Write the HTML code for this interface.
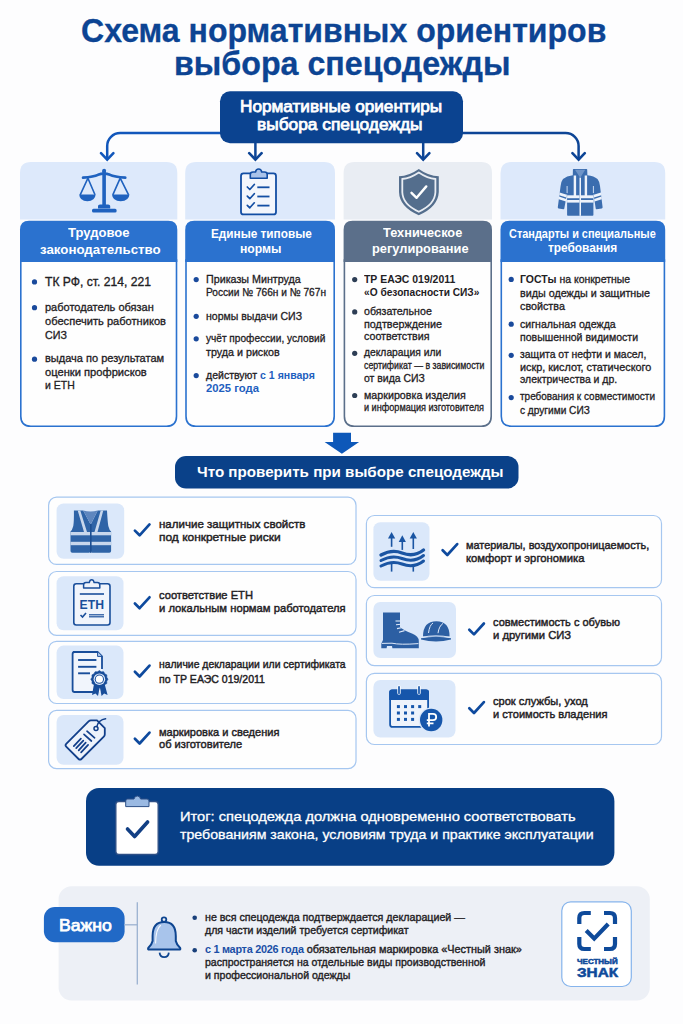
<!DOCTYPE html>
<html><head><meta charset="utf-8"><style>
html,body{margin:0;padding:0;}
body{width:683px;height:1024px;position:relative;overflow:hidden;background:#fdfdfe;font-family:"Liberation Sans",sans-serif;}
.t{position:absolute;white-space:nowrap;transform-origin:0 0;}
svg.s{position:absolute;left:0;top:0;}
</style></head><body>
<svg class="s" width="683" height="1024" viewBox="0 0 683 1024">
<path d="M222,133.1 L120.2,133.1 A13,13 0 0 0 107.2,146.1 L107.2,159" fill="none" stroke="#1257bb" stroke-width="2.5"/>
<path d="M461,133.1 L565.6,133.1 A13,13 0 0 1 578.6,146.1 L578.6,159" fill="none" stroke="#0d4596" stroke-width="2.5"/>
<path d="M255.4,142 L255.4,159 M423.2,142 L423.2,159" fill="none" stroke="#0d4596" stroke-width="2.5"/>
<path d="M101.0,153.2 L107.2,159.6 L113.4,153.2" fill="none" stroke="#1257bb" stroke-width="2.6" stroke-linecap="round" stroke-linejoin="miter"/>
<path d="M249.20000000000002,153.2 L255.4,159.6 L261.6,153.2" fill="none" stroke="#0d4596" stroke-width="2.6" stroke-linecap="round" stroke-linejoin="miter"/>
<path d="M417.0,153.2 L423.2,159.6 L429.4,153.2" fill="none" stroke="#0d4596" stroke-width="2.6" stroke-linecap="round" stroke-linejoin="miter"/>
<path d="M572.4,153.2 L578.6,159.6 L584.8000000000001,153.2" fill="none" stroke="#0d4596" stroke-width="2.6" stroke-linecap="round" stroke-linejoin="miter"/>
<rect x="220.00" y="91.20" width="243.00" height="52.00" rx="10" fill="#0b4390"/>
<path d="M20.8,260 L20.8,416.2 Q20.8,426.2 30.8,426.2 L166.5,426.2 Q176.5,426.2 176.5,416.2 L176.5,260 Z" fill="#fefefe" stroke="#2b72cf" stroke-width="1.6"/>
<path d="M20,219.6 L20,173 Q20,162 31,162 L166.3,162 Q177.3,162 177.3,173 L177.3,219.6 Z" fill="#dde9fb"/>
<path d="M20,262 L20,229.7 Q20,220.7 29,220.7 L168.3,220.7 Q177.3,220.7 177.3,229.7 L177.3,262 Z" fill="#2b72cf"/>
<path d="M186.0,260 L186.0,416.2 Q186.0,426.2 196.0,426.2 L324.2,426.2 Q334.2,426.2 334.2,416.2 L334.2,260 Z" fill="#fefefe" stroke="#2b72cf" stroke-width="1.6"/>
<path d="M185.2,219.6 L185.2,173 Q185.2,162 196.2,162 L324,162 Q335,162 335,173 L335,219.6 Z" fill="#dde9fb"/>
<path d="M185.2,262 L185.2,229.7 Q185.2,220.7 194.2,220.7 L326,220.7 Q335,220.7 335,229.7 L335,262 Z" fill="#2b72cf"/>
<path d="M344.40000000000003,260 L344.40000000000003,416.2 Q344.40000000000003,426.2 354.40000000000003,426.2 L481.2,426.2 Q491.2,426.2 491.2,416.2 L491.2,260 Z" fill="#fefefe" stroke="#5b6f8a" stroke-width="1.6"/>
<path d="M343.6,219.6 L343.6,173 Q343.6,162 354.6,162 L481,162 Q492,162 492,173 L492,219.6 Z" fill="#e9edf3"/>
<path d="M343.6,262 L343.6,229.7 Q343.6,220.7 352.6,220.7 L483,220.7 Q492,220.7 492,229.7 L492,262 Z" fill="#5b6f8a"/>
<path d="M501.3,260 L501.3,416.2 Q501.3,426.2 511.3,426.2 L654.4000000000001,426.2 Q664.4000000000001,426.2 664.4000000000001,416.2 L664.4000000000001,260 Z" fill="#fefefe" stroke="#2b72cf" stroke-width="1.6"/>
<path d="M500.5,219.6 L500.5,173 Q500.5,162 511.5,162 L654.2,162 Q665.2,162 665.2,173 L665.2,219.6 Z" fill="#dde9fb"/>
<path d="M500.5,262 L500.5,229.7 Q500.5,220.7 509.5,220.7 L656.2,220.7 Q665.2,220.7 665.2,229.7 L665.2,262 Z" fill="#2b72cf"/>
<g fill="#1f62bf" stroke="none"><circle cx="104.1" cy="170.8" r="2"/><rect x="102.3" y="171" width="3.6" height="36"/><path d="M98,206 Q98,204.5 100,204.5 L108.2,204.5 Q110.2,204.5 110.2,206 L110.2,208.5 L98,208.5 Z"/><rect x="92" y="208.8" width="24.6" height="3.8" rx="1.5"/><path d="M79.2,194.6 L95.6,194.6 Q95.2,201.2 87.4,201.2 Q79.6,201.2 79.2,194.6 Z"/><path d="M112,194.6 L129.4,194.6 Q129,201.2 120.7,201.2 Q112.4,201.2 112,194.6 Z"/></g>
<path d="M83,177.6 Q94,176.8 98,174.8 Q104,172.5 110,174.8 Q114,176.8 125.3,177.6" fill="none" stroke="#1f62bf" stroke-width="2.6" stroke-linecap="round"/>
<path d="M80.2,194.8 L87.9,178.2 L95,194.8 M112.8,194.8 L120.2,178.2 L128.6,194.8" fill="none" stroke="#1f62bf" stroke-width="1.6"/>
<rect x="241" y="173.4" width="35" height="41" rx="2.5" fill="#f3f6fc" stroke="#134ea3" stroke-width="1.8"/>
<path d="M250.3,178.2 L250.3,174.5 Q250.3,172 253,172 L255.5,172 Q256,169 258.6,169 Q261.2,169 261.7,172 L264.5,172 Q267.2,172 267.2,174.5 L267.2,178.2 Z" fill="#a9c3ea" stroke="#134ea3" stroke-width="1.6" stroke-linejoin="round"/>
<path d="M247.3,187.0 L249.8,189.5 L254.3,184.5" fill="none" stroke="#134ea3" stroke-width="1.7" stroke-linecap="round" stroke-linejoin="round"/>
<line x1="257.3" y1="187.3" x2="269.5" y2="187.3" stroke="#134ea3" stroke-width="1.8"/>
<path d="M247.3,196.2 L249.8,198.7 L254.3,193.7" fill="none" stroke="#134ea3" stroke-width="1.7" stroke-linecap="round" stroke-linejoin="round"/>
<line x1="257.3" y1="196.5" x2="269.5" y2="196.5" stroke="#134ea3" stroke-width="1.8"/>
<path d="M247.3,205.29999999999998 L249.8,207.79999999999998 L254.3,202.79999999999998" fill="none" stroke="#134ea3" stroke-width="1.7" stroke-linecap="round" stroke-linejoin="round"/>
<line x1="257.3" y1="205.6" x2="269.5" y2="205.6" stroke="#134ea3" stroke-width="1.8"/>
<path d="M418.8,169 Q409,176 399,176.2 L399,192 Q399.5,207 418.8,215.2 Q438,207 438.8,192 L438.8,176.2 Q428.5,176 418.8,169 Z" fill="#546e8d"/>
<path d="M418.8,172.6 Q410,178.6 402.3,179 L402.3,192.3 Q402.8,204.6 418.8,211.7 Q434.8,204.6 435.4,192.3 L435.4,179 Q427.6,178.6 418.8,172.6 Z" fill="none" stroke="#e9edf3" stroke-width="1.8"/>
<path d="M411.5,192.8 L416.6,197.8 L426.3,186.4" fill="none" stroke="#ffffff" stroke-width="2.4" stroke-linecap="round" stroke-linejoin="round"/>
<path d="M572.9,169.6 Q572.9,168.9 573.6,168.9 L586.5,168.9 Q587.2,168.9 587.2,169.6 L587.4,175.2 Q594,176 597.5,179 Q599.6,181.5 600,186 L602.6,207.2 Q602.7,208.2 601.7,208.4 L596.6,209.3 Q595.8,209.4 595.7,208.6 L593.4,193 L593.4,215 Q593.4,215.8 592.6,215.8 L567.9,215.8 Q567.1,215.8 567.1,215 L567.1,193 L564.3,208.6 Q564.2,209.4 563.4,209.3 L558.6,208.4 Q557.7,208.2 557.8,207.2 L560.6,186 Q561,181.5 563,179 Q566.6,176 572.8,175.2 Z" fill="#3b6daf"/>
<path d="M567.1,186 L567.1,193 M593.4,186 L593.4,193" stroke="#dde9fb" stroke-width="0.9"/>
<g fill="#eef3fb"><rect x="573.7" y="175.5" width="2.4" height="21"/><rect x="584.7" y="175.5" width="2.4" height="21"/><rect x="579.5" y="177.6" width="1.5" height="38.2"/><rect x="567.1" y="195.3" width="12.4" height="2.9"/><rect x="581" y="195.3" width="12.4" height="2.9"/><rect x="567.1" y="200" width="12.4" height="2.6"/><rect x="581" y="200" width="12.4" height="2.6"/><path d="M559.6,192.6 L566.8,194.8 L566.5,197.5 L559.2,195.3 Z M559,196.6 L566.3,199 L566,201.5 L558.7,199.3 Z"/><path d="M600.9,192.6 L593.7,194.8 L594,197.5 L601.3,195.3 Z M601.5,196.6 L594.2,199 L594.5,201.5 L601.8,199.3 Z"/></g>
<path d="M575,169.8 L580.2,177.8 L585.2,169.8 Z" fill="#6e94c8"/>
<path d="M333.1,432.7 L351,432.7 L351,442 L359.1,442 L341.9,453.8 L324.6,442 L333.1,442 Z" fill="#0d58b9"/>
<rect x="175.00" y="456.00" width="343.50" height="32.40" rx="11" fill="#0a4189"/>
<rect x="48.60" y="497.20" width="307.40" height="67.20" rx="8" fill="#fefefe" stroke="#a6c7f0" stroke-width="1.2"/>
<rect x="56.60" y="503.50" width="67.60" height="55.30" rx="7" fill="#dbe8fa"/>
<rect x="48.60" y="571.50" width="307.40" height="63.80" rx="8" fill="#fefefe" stroke="#a6c7f0" stroke-width="1.2"/>
<rect x="56.60" y="576.30" width="66.90" height="54.00" rx="7" fill="#dbe8fa"/>
<rect x="48.60" y="641.30" width="307.40" height="62.20" rx="8" fill="#fefefe" stroke="#a6c7f0" stroke-width="1.2"/>
<rect x="56.60" y="645.60" width="66.90" height="53.40" rx="7" fill="#dbe8fa"/>
<rect x="48.60" y="710.40" width="307.40" height="58.20" rx="8" fill="#fefefe" stroke="#a6c7f0" stroke-width="1.2"/>
<rect x="56.60" y="715.00" width="66.90" height="49.70" rx="7" fill="#dbe8fa"/>
<rect x="366.40" y="515.50" width="295.10" height="72.20" rx="8" fill="#fefefe" stroke="#a6c7f0" stroke-width="1.2"/>
<rect x="373.40" y="522.30" width="56.10" height="58.50" rx="7" fill="#dbe8fa"/>
<rect x="366.40" y="595.50" width="295.10" height="70.10" rx="8" fill="#fefefe" stroke="#a6c7f0" stroke-width="1.2"/>
<rect x="373.40" y="602.00" width="82.60" height="56.10" rx="7" fill="#dbe8fa"/>
<rect x="366.40" y="673.30" width="295.10" height="71.20" rx="8" fill="#fefefe" stroke="#a6c7f0" stroke-width="1.2"/>
<rect x="373.40" y="680.00" width="82.10" height="57.50" rx="7" fill="#dbe8fa"/>
<path d="M134.9,530.6 L139.6,535.3 L149.5,524.4" fill="none" stroke="#0e4a9e" stroke-width="2.7" stroke-linecap="round" stroke-linejoin="round"/>
<path d="M134.9,603.5 L139.6,608.2 L149.5,597.3" fill="none" stroke="#0e4a9e" stroke-width="2.7" stroke-linecap="round" stroke-linejoin="round"/>
<path d="M134.9,671.8 L139.6,676.5 L149.5,665.6" fill="none" stroke="#0e4a9e" stroke-width="2.7" stroke-linecap="round" stroke-linejoin="round"/>
<path d="M134.9,738.8 L139.6,743.5 L149.5,732.6" fill="none" stroke="#0e4a9e" stroke-width="2.7" stroke-linecap="round" stroke-linejoin="round"/>
<path d="M442.6,550.3 L447.3,555.0 L457.2,544.1" fill="none" stroke="#0e4a9e" stroke-width="2.7" stroke-linecap="round" stroke-linejoin="round"/>
<path d="M469.3,629.7 L474.0,634.4 L483.9,623.5" fill="none" stroke="#0e4a9e" stroke-width="2.7" stroke-linecap="round" stroke-linejoin="round"/>
<path d="M469.3,708.3 L474.0,713.0 L483.9,702.1" fill="none" stroke="#0e4a9e" stroke-width="2.7" stroke-linecap="round" stroke-linejoin="round"/>
<path d="M73.9,510.6 L83.2,510.4 L90.7,524.4 L97.7,510.4 L107,510.6 Q107.5,521 108.3,526 Q109.5,530.5 111.1,531.5 L111.1,551 Q111.1,552.8 109.3,552.8 L92.2,552.8 L90.8,551 L89.4,552.8 L72.3,552.8 Q70.5,552.8 70.5,551 L70.5,531.5 Q72.1,530.5 73.3,526 Q74.1,521 73.9,510.6 Z" fill="#2f64a7"/>
<path d="M83.2,510.4 L90.7,524.4 L97.7,510.4 Q90.5,512.5 83.2,510.4 Z" fill="#5f87bf"/>
<path d="M77.7,510.6 L80.3,510.5 L87,532 L84,532 Z M103.3,510.6 L100.7,510.5 L94.5,532 L97.5,532 Z" fill="#c8d7ec"/>
<rect x="70.5" y="532" width="40.6" height="3.3" fill="#c8d7ec"/><rect x="70.5" y="541.8" width="40.6" height="3.4" fill="#c8d7ec"/>
<rect x="90" y="524" width="1.6" height="28.8" fill="#1d4f92"/>
<rect x="73.8" y="583.7" width="36.2" height="41.3" rx="2.5" fill="#f1f5fc" stroke="#1a4f9b" stroke-width="1.6"/>
<path d="M83.6,588 L83.6,585 Q83.6,582.6 86,582.6 L89.3,582.6 Q89.8,579.8 91.7,579.8 Q93.6,579.8 94.1,582.6 L97.4,582.6 Q99.8,582.6 99.8,585 L99.8,588 Z" fill="#eef3fb" stroke="#1a4f9b" stroke-width="1.5" stroke-linejoin="round"/>
<line x1="79.8" y1="594" x2="104" y2="594" stroke="#1a4f9b" stroke-width="1.6"/>
<text x="79.6" y="608.6" font-family="Liberation Sans" font-weight="700" font-size="13" fill="#1a4f9b" textLength="24.4" lengthAdjust="spacingAndGlyphs">ETH</text>
<path d="M80.5,615 L82.5,617 L86,613" fill="none" stroke="#1a4f9b" stroke-width="1.6"/>
<line x1="89" y1="614.8" x2="104" y2="614.8" stroke="#1a4f9b" stroke-width="1.2"/><line x1="89" y1="616.8" x2="104" y2="616.8" stroke="#1a4f9b" stroke-width="1.2"/>
<path d="M72.6,652 L97.6,652 L102,656.4 L102,692 L72.6,692 Z" fill="#f1f5fc"/>
<path d="M73,652 L97.6,652 L102,656.4 L102,669 M93,692 L74.6,692 Q72.6,692 72.6,690 L72.6,654 Q72.6,652 74.6,652" fill="none" stroke="#184d9a" stroke-width="1.8"/>
<path d="M97.6,652 L97.6,656.4 L102,656.4" fill="#b9cdea" stroke="#184d9a" stroke-width="1"/>
<g stroke="#184d9a" stroke-width="1.9"><line x1="78.1" y1="660" x2="96.4" y2="660"/><line x1="78.1" y1="666.8" x2="96.4" y2="666.8"/><line x1="78.1" y1="673.3" x2="90" y2="673.3"/></g>
<path d="M94,684 L92,695 L95.5,693.5 L98,696 L100.2,685 Z M104.6,684 L107.6,695 L104.1,693.5 L101.6,696 L99.4,685 Z" fill="#184d9a"/>
<path d="M108.00,679.20 L106.74,681.17 L106.85,683.50 L104.77,684.57 L103.70,686.65 L101.37,686.54 L99.40,687.80 L97.43,686.54 L95.10,686.65 L94.03,684.57 L91.95,683.50 L92.06,681.17 L90.80,679.20 L92.06,677.23 L91.95,674.90 L94.03,673.83 L95.10,671.75 L97.43,671.86 L99.40,670.60 L101.37,671.86 L103.70,671.75 L104.77,673.83 L106.85,674.90 L106.74,677.23 Z" fill="#184d9a" stroke="#184d9a" stroke-width="0.6" stroke-linejoin="round"/><circle cx="99.4" cy="679.2" r="5.8" fill="#dbe6f7"/><circle cx="99.4" cy="679.2" r="4.6" fill="#184d9a"/><circle cx="99.4" cy="679.2" r="3.6" fill="#ffffff"/>
<path d="M66.2,743.8 L88.6,721.4 Q89.6,720.4 91,720.4 L97,720.4 L104.8,728.2 L104.8,734.2 Q104.8,735.6 103.8,736.6 L81.4,759 Q80,760.4 78.6,759 L66.2,746.6 Q64.8,745.2 66.2,743.8 Z" fill="#eef3fb" stroke="#123f8a" stroke-width="1.8" stroke-linejoin="round"/>
<circle cx="96" cy="728.6" r="2" fill="none" stroke="#123f8a" stroke-width="1.5"/>
<path d="M96.8,726.6 Q98.5,719.8 105.6,718.8" fill="none" stroke="#123f8a" stroke-width="1.5" stroke-linecap="round"/>
<g stroke="#123f8a" stroke-width="1.7" stroke-linecap="round"><line x1="73.8" y1="746.2" x2="80.9" y2="738.6"/><line x1="76.2" y1="748.2" x2="83.3" y2="740.6"/><line x1="78.7" y1="750.3" x2="85.7" y2="742.7"/><line x1="81.1" y1="752.4" x2="88.1" y2="744.8"/><line x1="87" y1="731.2" x2="94.6" y2="737.8"/><line x1="84" y1="734.4" x2="91.4" y2="741"/></g>
<g fill="#1a55a3"><path d="M391.6,532 L395.2,538.6 L388,538.6 Z"/><rect x="390.8" y="538" width="1.6" height="8.8"/><path d="M402.3,535.3 L405.9,541.9 L398.7,541.9 Z"/><rect x="401.5" y="541.5" width="1.6" height="8.4"/><path d="M413.3,532 L416.9,538.6 L409.7,538.6 Z"/><rect x="412.5" y="538" width="1.6" height="11"/><rect x="390.8" y="564" width="1.6" height="7.6"/><rect x="412.5" y="564" width="1.6" height="7.6"/></g>
<path d="M381,555 Q392,549 402,553 Q414,557.5 423.5,550" fill="none" stroke="#1a55a3" stroke-width="3.4" stroke-linecap="round"/>
<path d="M381,560.5 Q392,554.5 402,558.5 Q414,563.0 423.5,555.5" fill="none" stroke="#1a55a3" stroke-width="3.0" stroke-linecap="round"/>
<path d="M381,566 Q392,560 402,564 Q414,568.5 423.5,561" fill="none" stroke="#1a55a3" stroke-width="3.0" stroke-linecap="round"/>
<path d="M383,612.4 L400,612.4 L400,627 Q404,630.5 412,633.5 Q418.8,636 418.8,641 L418.8,648.2 L392.4,648.2 L392,646 L387,646 L386.6,648.2 L381.3,648.2 L381.3,643.5 L383,640 Z" fill="#2c5fa3"/>
<path d="M381.8,643.4 L392,643.2 Q400,645 418.4,643.6" fill="none" stroke="#dfe9f8" stroke-width="1"/>
<g stroke="#dfe9f8" stroke-width="1.1"><line x1="395.5" y1="621" x2="400" y2="621"/><line x1="396" y1="624.8" x2="401" y2="624.2"/><line x1="397" y1="628.6" x2="402.5" y2="627.5"/><line x1="399" y1="632.2" x2="404.5" y2="630.6"/></g>
<path d="M423,636.5 Q423,621.2 436.3,621.2 Q449.6,621.2 449.6,636.5 Z" fill="#2c5fa3"/>
<path d="M421,638.3 Q436,635 451,638.3 L451,639.5 Q436,643.5 421,639.5 Z" fill="#2c5fa3"/>
<path d="M421.5,637.4 Q436,634.2 450.5,637.4" fill="none" stroke="#dfe9f8" stroke-width="0.9"/>
<path d="M428.5,633 Q429.5,625 433,623 M438,633.2 Q439,626 443,623.4" fill="none" stroke="#dfe9f8" stroke-width="1"/>
<rect x="390.1" y="690.3" width="38" height="36.6" rx="2.5" fill="#eef3fb" stroke="#1656ab" stroke-width="1.8"/>
<path d="M389.2,700 L389.2,692 Q389.2,689.4 391.8,689.4 L426.4,689.4 Q429,689.4 429,692 L429,700 Z" fill="#1656ab"/>
<g stroke="#ffffff" stroke-width="3.4" stroke-linecap="round"><line x1="399" y1="687" x2="399" y2="693"/><line x1="419" y1="687" x2="419" y2="693"/></g>
<g stroke="#1656ab" stroke-width="1.7" stroke-linecap="round"><line x1="399" y1="686.8" x2="399" y2="693.2"/><line x1="419" y1="686.8" x2="419" y2="693.2"/></g>
<g fill="#1656ab"><rect x="396.9" y="705.1" width="3" height="3"/><rect x="404.0" y="705.1" width="3" height="3"/><rect x="411.1" y="705.1" width="3" height="3"/><rect x="418.2" y="705.1" width="3" height="3"/><rect x="396.9" y="711.5" width="3" height="3"/><rect x="404.0" y="711.5" width="3" height="3"/><rect x="411.1" y="711.5" width="3" height="3"/><rect x="396.9" y="717.9" width="3" height="3"/><rect x="404.0" y="717.9" width="3" height="3"/><rect x="411.1" y="717.9" width="3" height="3"/></g>
<circle cx="431.2" cy="720" r="12.6" fill="#dbe8fa"/><circle cx="431.2" cy="720" r="11.2" fill="#1656ab"/>
<path d="M429,726.5 L429,713.8 L433,713.8 Q436.2,713.8 436.2,717 Q436.2,720.2 433,720.2 L426.8,720.2 M426.8,723.3 L433.5,723.3" fill="none" stroke="#ffffff" stroke-width="1.8"/>
<rect x="86.00" y="788.00" width="528.40" height="77.80" rx="13" fill="#083f86"/>
<rect x="115.8" y="801.5" width="42.4" height="53" rx="3" fill="#ffffff" stroke="#2d4f86" stroke-width="1.4"/>
<path d="M125.7,806.6 L125.7,801 Q125.7,799 127.7,799 L134,799 Q134.5,796 137.3,796 Q140.1,796 140.6,799 L147,799 Q149,799 149,801 L149,806.6 Z" fill="#9ab9e2" stroke="#2d4f86" stroke-width="1"/>
<path d="M127.5,829 L134.6,836.5 L147.6,822" fill="none" stroke="#123f84" stroke-width="3.6" stroke-linecap="round" stroke-linejoin="round"/>
<rect x="58.60" y="886.20" width="591.20" height="114.40" rx="13" fill="#edf0f6"/>
<rect x="43.90" y="907.00" width="80.70" height="35.30" rx="11" fill="#2169c6"/>
<line x1="124" y1="924.8" x2="137.3" y2="924.8" stroke="#9bb1d0" stroke-width="1.3"/><line x1="137.3" y1="902.3" x2="137.3" y2="984.4" stroke="#9bb1d0" stroke-width="1.3"/>
<circle cx="164" cy="919.6" r="2.3" fill="none" stroke="#0e4590" stroke-width="1.8"/>
<path d="M152.6,936 Q152.6,922 164.2,922 Q175.8,922 175.8,936 L175.8,941 Q176.5,944.5 180.2,948 Q180.8,949.6 179.2,949.6 L149.2,949.6 Q147.6,949.6 148.2,948 Q151.9,944.5 152.6,941 Z" fill="#a8c4eb" stroke="#0e4590" stroke-width="2" stroke-linejoin="round"/>
<path d="M155.6,943 Q155.8,929 160.5,925.5" fill="none" stroke="#ffffff" stroke-width="1.1" stroke-linecap="round" opacity="0.9"/>
<path d="M159.6,952.6 Q160,957.2 164.2,957.2 Q168.4,957.2 168.8,952.6" fill="none" stroke="#0e4590" stroke-width="1.8"/>
<circle cx="194.7" cy="917.7" r="2.3" fill="#183f7a"/>
<circle cx="194.7" cy="950.3" r="2.3" fill="#183f7a"/>
<circle cx="34.5" cy="281.9" r="2.6" fill="#1a4a9c"/>
<circle cx="34.5" cy="307.7" r="2.6" fill="#1a4a9c"/>
<circle cx="34.5" cy="359.2" r="2.6" fill="#1a4a9c"/>
<circle cx="196.2" cy="279.6" r="2.6" fill="#1a4a9c"/>
<circle cx="196.2" cy="316.3" r="2.6" fill="#1a4a9c"/>
<circle cx="196.2" cy="338.8" r="2.6" fill="#1a4a9c"/>
<circle cx="196.2" cy="375.6" r="2.6" fill="#1a4a9c"/>
<circle cx="354.7" cy="279.6" r="2.6" fill="#2d3e55"/>
<circle cx="354.7" cy="311.9" r="2.6" fill="#2d3e55"/>
<circle cx="354.7" cy="353.3" r="2.6" fill="#2d3e55"/>
<circle cx="354.7" cy="395.5" r="2.6" fill="#2d3e55"/>
<circle cx="511.2" cy="279.4" r="2.6" fill="#1a4a9c"/>
<circle cx="511.2" cy="324.2" r="2.6" fill="#1a4a9c"/>
<circle cx="511.2" cy="355.3" r="2.6" fill="#1a4a9c"/>
<circle cx="511.2" cy="397.6" r="2.6" fill="#1a4a9c"/>
<rect x="561.80" y="901.80" width="69.50" height="84.70" rx="9" fill="#ffffff" stroke="#86b4ec" stroke-width="1.2"/>
<g fill="none" stroke="#0e4a9a" stroke-width="4.2" stroke-linejoin="round"><path d="M579.3,924 L579.3,918 Q579.3,913 584.3,913 L590.8,913"/><path d="M604,913 L610,913 Q615,913 615,918 L615,924"/><path d="M579.3,937 L579.3,944 Q579.3,949 584.3,949 L590.8,949"/><path d="M604,949 L610,949 Q615,949 615,944 L615,937"/></g>
<path d="M586.2,930.6 L594.2,938.6 L608.2,924" fill="none" stroke="#0e4a9a" stroke-width="4.2"/>
</svg>
<div class='t' id='t0' style="left:80.88px;top:15.09px;font-size:32.5px;line-height:32.5px;font-weight:700;color:#0c4493;transform:scaleX(0.9856);-webkit-text-stroke:0.3px #0c4493;">Схема нормативных ориентиров</div><div class='t' id='t1' style="left:174.07px;top:47.59px;font-size:32.5px;line-height:32.5px;font-weight:700;color:#0c4493;transform:scaleX(0.9913);-webkit-text-stroke:0.3px #0c4493;">выбора спецодежды</div><div class='t' id='t2' style="left:240.10px;top:99.26px;font-size:16px;line-height:16px;font-weight:400;color:#ffffff;transform:scaleX(1.0728);-webkit-text-stroke:0.75px #ffffff;">Нормативные ориентиры</div><div class='t' id='t3' style="left:256.90px;top:117.06px;font-size:16px;line-height:16px;font-weight:400;color:#ffffff;transform:scaleX(1.0817);-webkit-text-stroke:0.75px #ffffff;">выбора спецодежды</div><div class='t' id='t4' style="left:68.05px;top:226.20px;font-size:13px;line-height:13px;font-weight:700;color:#ffffff;transform:scaleX(1.0031);">Трудовое</div><div class='t' id='t5' style="left:39.95px;top:242.60px;font-size:13px;line-height:13px;font-weight:700;color:#ffffff;transform:scaleX(1.0219);">законодательство</div><div class='t' id='t6' style="left:211.30px;top:227.74px;font-size:12px;line-height:12px;font-weight:700;color:#ffffff;transform:scaleX(0.9821);">Единые типовые</div><div class='t' id='t7' style="left:240.10px;top:243.44px;font-size:12px;line-height:12px;font-weight:700;color:#ffffff;transform:scaleX(1.0153);">нормы</div><div class='t' id='t8' style="left:382.68px;top:227.32px;font-size:12.5px;line-height:12.5px;font-weight:700;color:#ffffff;transform:scaleX(1.0203);">Техническое</div><div class='t' id='t9' style="left:372.38px;top:242.52px;font-size:12.5px;line-height:12.5px;font-weight:700;color:#ffffff;transform:scaleX(1.0256);">регулирование</div><div class='t' id='t10' style="left:509.38px;top:227.82px;font-size:12.5px;line-height:12.5px;font-weight:700;color:#ffffff;transform:scaleX(0.8734);">Стандарты и специальные</div><div class='t' id='t11' style="left:547.88px;top:242.22px;font-size:12.5px;line-height:12.5px;font-weight:700;color:#ffffff;transform:scaleX(0.9498);">требования</div><div class='t' id='t12' style="left:44.70px;top:275.74px;font-size:12px;line-height:12px;font-weight:400;color:#1f2124;transform:scaleX(1.0099);-webkit-text-stroke:0.32px #1f2124;">ТК РФ, ст. 214, 221</div><div class='t' id='t13' style="left:44.75px;top:301.97px;font-size:11.5px;line-height:11.5px;font-weight:400;color:#1f2124;transform:scaleX(0.9570);-webkit-text-stroke:0.32px #1f2124;">работодатель обязан</div><div class='t' id='t14' style="left:44.75px;top:316.47px;font-size:11.5px;line-height:11.5px;font-weight:400;color:#1f2124;transform:scaleX(0.9653);-webkit-text-stroke:0.32px #1f2124;">обеспечить работников</div><div class='t' id='t15' style="left:44.75px;top:329.57px;font-size:11.5px;line-height:11.5px;font-weight:400;color:#1f2124;transform:scaleX(0.9307);-webkit-text-stroke:0.32px #1f2124;">СИЗ</div><div class='t' id='t16' style="left:44.75px;top:353.47px;font-size:11.5px;line-height:11.5px;font-weight:400;color:#1f2124;transform:scaleX(0.9578);-webkit-text-stroke:0.32px #1f2124;">выдача по результатам</div><div class='t' id='t17' style="left:44.75px;top:367.07px;font-size:11.5px;line-height:11.5px;font-weight:400;color:#1f2124;transform:scaleX(0.9698);-webkit-text-stroke:0.32px #1f2124;">оценки профрисков</div><div class='t' id='t18' style="left:44.75px;top:380.37px;font-size:11.5px;line-height:11.5px;font-weight:400;color:#1f2124;transform:scaleX(0.9103);-webkit-text-stroke:0.32px #1f2124;">и ЕТН</div><div class='t' id='t19' style="left:205.55px;top:273.97px;font-size:11.5px;line-height:11.5px;font-weight:400;color:#1f2124;transform:scaleX(0.9318);-webkit-text-stroke:0.32px #1f2124;">Приказы Минтруда</div><div class='t' id='t20' style="left:205.55px;top:287.37px;font-size:11.5px;line-height:11.5px;font-weight:400;color:#1f2124;transform:scaleX(0.8819);-webkit-text-stroke:0.32px #1f2124;">России № 766н и № 767н</div><div class='t' id='t21' style="left:205.55px;top:310.77px;font-size:11.5px;line-height:11.5px;font-weight:400;color:#1f2124;transform:scaleX(0.9154);-webkit-text-stroke:0.32px #1f2124;">нормы выдачи СИЗ</div><div class='t' id='t22' style="left:205.55px;top:332.97px;font-size:11.5px;line-height:11.5px;font-weight:400;color:#1f2124;transform:scaleX(0.8786);-webkit-text-stroke:0.32px #1f2124;">учёт профессии, условий</div><div class='t' id='t23' style="left:205.55px;top:346.57px;font-size:11.5px;line-height:11.5px;font-weight:400;color:#1f2124;transform:scaleX(0.9322);-webkit-text-stroke:0.32px #1f2124;">труда и рисков</div><div class='t' id='t24' style="left:205.55px;top:369.77px;font-size:11.5px;line-height:11.5px;font-weight:400;color:#1f2124;transform:scaleX(0.9162);-webkit-text-stroke:0.32px #1f2124;">действуют <b style='color:#1f5fbf;-webkit-text-stroke:0'>с 1 января</b></div><div class='t' id='t25' style="left:205.55px;top:382.87px;font-size:11.5px;line-height:11.5px;font-weight:700;color:#1f5fbf;transform:scaleX(0.9815);">2025 года</div><div class='t' id='t26' style="left:363.55px;top:273.97px;font-size:11.5px;line-height:11.5px;font-weight:700;color:#1f2124;transform:scaleX(0.9066);">ТР ЕАЭС 019/2011</div><div class='t' id='t27' style="left:363.55px;top:287.37px;font-size:11.5px;line-height:11.5px;font-weight:700;color:#1f2124;transform:scaleX(0.8842);">«О безопасности СИЗ»</div><div class='t' id='t28' style="left:363.55px;top:306.07px;font-size:11.5px;line-height:11.5px;font-weight:400;color:#1f2124;transform:scaleX(0.9240);-webkit-text-stroke:0.32px #1f2124;">обязательное</div><div class='t' id='t29' style="left:363.55px;top:318.97px;font-size:11.5px;line-height:11.5px;font-weight:400;color:#1f2124;transform:scaleX(0.9375);-webkit-text-stroke:0.32px #1f2124;">подтверждение</div><div class='t' id='t30' style="left:363.55px;top:331.37px;font-size:11.5px;line-height:11.5px;font-weight:400;color:#1f2124;transform:scaleX(0.9276);-webkit-text-stroke:0.32px #1f2124;">соответствия</div><div class='t' id='t31' style="left:363.55px;top:347.07px;font-size:11.5px;line-height:11.5px;font-weight:400;color:#1f2124;transform:scaleX(0.8960);-webkit-text-stroke:0.32px #1f2124;">декларация или</div><div class='t' id='t32' style="left:363.58px;top:360.39px;font-size:11.0px;line-height:11.0px;font-weight:400;color:#1f2124;transform:scaleX(0.7976);-webkit-text-stroke:0.32px #1f2124;">сертификат — в зависимости</div><div class='t' id='t33' style="left:363.55px;top:372.77px;font-size:11.5px;line-height:11.5px;font-weight:400;color:#1f2124;transform:scaleX(0.9079);-webkit-text-stroke:0.32px #1f2124;">от вида СИЗ</div><div class='t' id='t34' style="left:363.55px;top:389.87px;font-size:11.5px;line-height:11.5px;font-weight:400;color:#1f2124;transform:scaleX(0.9299);-webkit-text-stroke:0.32px #1f2124;">маркировка изделия</div><div class='t' id='t35' style="left:363.58px;top:402.49px;font-size:11.0px;line-height:11.0px;font-weight:400;color:#1f2124;transform:scaleX(0.8287);-webkit-text-stroke:0.32px #1f2124;">и информация изготовителя</div><div class='t' id='t36' style="left:519.85px;top:273.77px;font-size:11.5px;line-height:11.5px;font-weight:400;color:#1f2124;transform:scaleX(0.9114);-webkit-text-stroke:0.32px #1f2124;"><b style='-webkit-text-stroke:0'>ГОСТы</b> на конкретные</div><div class='t' id='t37' style="left:519.85px;top:288.17px;font-size:11.5px;line-height:11.5px;font-weight:400;color:#1f2124;transform:scaleX(0.9343);-webkit-text-stroke:0.32px #1f2124;">виды одежды и защитные</div><div class='t' id='t38' style="left:519.85px;top:300.67px;font-size:11.5px;line-height:11.5px;font-weight:400;color:#1f2124;transform:scaleX(0.9363);-webkit-text-stroke:0.32px #1f2124;">свойства</div><div class='t' id='t39' style="left:519.85px;top:318.57px;font-size:11.5px;line-height:11.5px;font-weight:400;color:#1f2124;transform:scaleX(0.9210);-webkit-text-stroke:0.32px #1f2124;">сигнальная одежда</div><div class='t' id='t40' style="left:519.85px;top:331.77px;font-size:11.5px;line-height:11.5px;font-weight:400;color:#1f2124;transform:scaleX(0.9173);-webkit-text-stroke:0.32px #1f2124;">повышенной видимости</div><div class='t' id='t41' style="left:519.85px;top:349.17px;font-size:11.5px;line-height:11.5px;font-weight:400;color:#1f2124;transform:scaleX(0.9065);-webkit-text-stroke:0.32px #1f2124;">защита от нефти и масел,</div><div class='t' id='t42' style="left:519.85px;top:361.67px;font-size:11.5px;line-height:11.5px;font-weight:400;color:#1f2124;transform:scaleX(0.9424);-webkit-text-stroke:0.32px #1f2124;">искр, кислот, статического</div><div class='t' id='t43' style="left:519.85px;top:374.07px;font-size:11.5px;line-height:11.5px;font-weight:400;color:#1f2124;transform:scaleX(0.9095);-webkit-text-stroke:0.32px #1f2124;">электричества и др.</div><div class='t' id='t44' style="left:519.85px;top:391.47px;font-size:11.5px;line-height:11.5px;font-weight:400;color:#1f2124;transform:scaleX(0.8684);-webkit-text-stroke:0.32px #1f2124;">требования к совместимости</div><div class='t' id='t45' style="left:519.85px;top:404.97px;font-size:11.5px;line-height:11.5px;font-weight:400;color:#1f2124;transform:scaleX(0.8797);-webkit-text-stroke:0.32px #1f2124;">с другими СИЗ</div><div class='t' id='t46' style="left:197.25px;top:463.60px;font-size:15px;line-height:15px;font-weight:700;color:#ffffff;transform:scaleX(1.0109);">Что проверить при выборе спецодежды</div><div class='t' id='t47' style="left:158.94px;top:518.61px;font-size:11.8px;line-height:11.8px;font-weight:400;color:#1f2124;transform:scaleX(0.9780);-webkit-text-stroke:0.45px #1f2124;">наличие защитных свойств</div><div class='t' id='t48' style="left:158.94px;top:531.71px;font-size:11.8px;line-height:11.8px;font-weight:400;color:#1f2124;transform:scaleX(1.0123);-webkit-text-stroke:0.45px #1f2124;">под конкретные риски</div><div class='t' id='t49' style="left:159.24px;top:590.21px;font-size:11.8px;line-height:11.8px;font-weight:400;color:#1f2124;transform:scaleX(0.9443);-webkit-text-stroke:0.45px #1f2124;">соответствие ЕТН</div><div class='t' id='t50' style="left:159.24px;top:603.31px;font-size:11.8px;line-height:11.8px;font-weight:400;color:#1f2124;transform:scaleX(0.9513);-webkit-text-stroke:0.45px #1f2124;">и локальным нормам работодателя</div><div class='t' id='t51' style="left:159.24px;top:659.21px;font-size:11.8px;line-height:11.8px;font-weight:400;color:#1f2124;transform:scaleX(0.8820);-webkit-text-stroke:0.45px #1f2124;">наличие декларации или сертификата</div><div class='t' id='t52' style="left:159.24px;top:673.51px;font-size:11.8px;line-height:11.8px;font-weight:400;color:#1f2124;transform:scaleX(0.8926);-webkit-text-stroke:0.45px #1f2124;">по ТР ЕАЭС 019/2011</div><div class='t' id='t53' style="left:159.24px;top:726.61px;font-size:11.8px;line-height:11.8px;font-weight:400;color:#1f2124;transform:scaleX(0.9352);-webkit-text-stroke:0.45px #1f2124;">маркировка и сведения</div><div class='t' id='t54' style="left:159.24px;top:739.31px;font-size:11.8px;line-height:11.8px;font-weight:400;color:#1f2124;transform:scaleX(0.9403);-webkit-text-stroke:0.45px #1f2124;">об изготовителе</div><div class='t' id='t55' style="left:465.74px;top:539.51px;font-size:11.8px;line-height:11.8px;font-weight:400;color:#1f2124;transform:scaleX(0.9231);-webkit-text-stroke:0.45px #1f2124;">материалы, воздухопроницаемость,</div><div class='t' id='t56' style="left:465.74px;top:553.11px;font-size:11.8px;line-height:11.8px;font-weight:400;color:#1f2124;transform:scaleX(0.9556);-webkit-text-stroke:0.45px #1f2124;">комфорт и эргономика</div><div class='t' id='t57' style="left:493.13px;top:617.41px;font-size:11.8px;line-height:11.8px;font-weight:400;color:#1f2124;transform:scaleX(0.9334);-webkit-text-stroke:0.45px #1f2124;">совместимость с обувью</div><div class='t' id='t58' style="left:493.13px;top:630.11px;font-size:11.8px;line-height:11.8px;font-weight:400;color:#1f2124;transform:scaleX(0.9519);-webkit-text-stroke:0.45px #1f2124;">и другими СИЗ</div><div class='t' id='t59' style="left:493.13px;top:696.11px;font-size:11.8px;line-height:11.8px;font-weight:400;color:#1f2124;transform:scaleX(0.9395);-webkit-text-stroke:0.45px #1f2124;">срок службы, уход</div><div class='t' id='t60' style="left:493.13px;top:709.41px;font-size:11.8px;line-height:11.8px;font-weight:400;color:#1f2124;transform:scaleX(0.9382);-webkit-text-stroke:0.45px #1f2124;">и стоимость владения</div><div class='t' id='t61' style="left:180.32px;top:809.67px;font-size:13.5px;line-height:13.5px;font-weight:400;color:#ffffff;transform:scaleX(1.0862);-webkit-text-stroke:0.3px #ffffff;">Итог: спецодежда должна одновременно соответствовать</div><div class='t' id='t62' style="left:180.32px;top:827.97px;font-size:13.5px;line-height:13.5px;font-weight:400;color:#ffffff;transform:scaleX(1.0483);-webkit-text-stroke:0.3px #ffffff;">требованиям закона, условиям труда и практике эксплуатации</div><div class='t' id='t63' style="left:58.65px;top:916.81px;font-size:17px;line-height:17px;font-weight:400;color:#ffffff;transform:scaleX(1.0369);-webkit-text-stroke:0.75px #ffffff;">Важно</div><div class='t' id='t64' style="left:204.75px;top:912.07px;font-size:11.5px;line-height:11.5px;font-weight:400;color:#1f2124;transform:scaleX(0.9286);-webkit-text-stroke:0.4px #1f2124;">не вся спецодежда подтверждается декларацией —</div><div class='t' id='t65' style="left:204.75px;top:925.27px;font-size:11.5px;line-height:11.5px;font-weight:400;color:#1f2124;transform:scaleX(0.9189);-webkit-text-stroke:0.4px #1f2124;">для части изделий требуется сертификат</div><div class='t' id='t66' style="left:204.75px;top:943.77px;font-size:11.5px;line-height:11.5px;font-weight:400;color:#1f2124;transform:scaleX(0.9456);-webkit-text-stroke:0.4px #1f2124;"><b style='color:#1b4fa6;-webkit-text-stroke:0;letter-spacing:-0.3px'>с 1 марта 2026 года</b> обязательная маркировка «Честный знак»</div><div class='t' id='t67' style="left:204.75px;top:956.87px;font-size:11.5px;line-height:11.5px;font-weight:400;color:#1f2124;transform:scaleX(0.9165);-webkit-text-stroke:0.4px #1f2124;">распространяется на отдельные виды производственной</div><div class='t' id='t68' style="left:204.75px;top:969.57px;font-size:11.5px;line-height:11.5px;font-weight:400;color:#1f2124;transform:scaleX(0.9172);-webkit-text-stroke:0.4px #1f2124;">и профессиональной одежды</div><div class='t' id='t69' style="left:576.83px;top:957.65px;font-size:7.5px;line-height:7.5px;font-weight:700;color:#0e4a9a;transform:scaleX(1.0632);-webkit-text-stroke:0.5px #0e4a9a;">ЧЕСТНЫЙ</div><div class='t' id='t70' style="left:576.58px;top:967.42px;font-size:12.5px;line-height:12.5px;font-weight:700;color:#0e4a9a;transform:scaleX(1.2278);-webkit-text-stroke:0.5px #0e4a9a;">ЗНАК</div>
</body></html>
